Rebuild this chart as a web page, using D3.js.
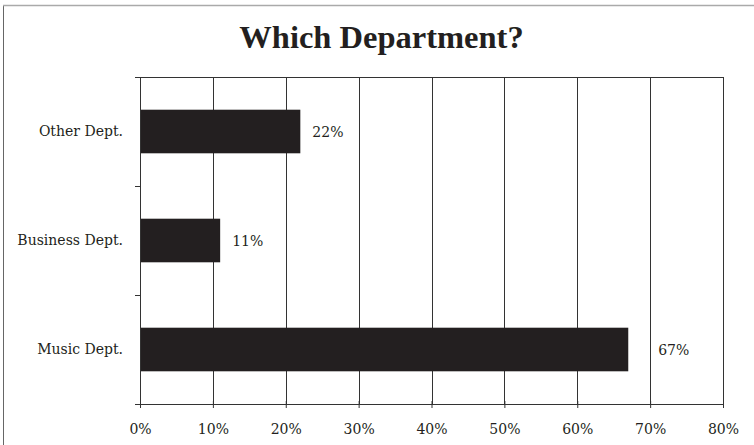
<!DOCTYPE html>
<html>
<head>
<meta charset="utf-8">
<script src="https://cdn.jsdelivr.net/npm/d3@7"></script>
<style>
  html, body { margin: 0; padding: 0; background: #fff; }
  svg { display: block; }
</style>
</head>
<body>
<div id="chart"></div>
<script>
const title = "Which Department?";
const categories = ["Other Dept.", "Business Dept.", "Music Dept."];
const values = [22, 11, 67];
const xTicks = [0, 10, 20, 30, 40, 50, 60, 70, 80];

const W = 754, H = 445;
const margin = { top: 77, right: 31, bottom: 41, left: 140 };
const innerW = W - margin.left - margin.right;
const innerH = H - margin.top - margin.bottom;
const ink = "#231f20";
const serif = "'DejaVu Serif', 'Liberation Serif', serif";
const titleFont = "'Liberation Serif', 'DejaVu Serif', serif";

const svg = d3.select("#chart").append("svg").attr("width", W).attr("height", H);

// outer frame (partially visible)
svg.append("line").attr("x1", 3.5).attr("x2", 3.5).attr("y1", 5).attr("y2", H)
  .attr("stroke", "#666").attr("stroke-width", 1);
svg.append("line").attr("x1", 3).attr("x2", W).attr("y1", 5.5).attr("y2", 5.5)
  .attr("stroke", "#aaa").attr("stroke-width", 1.5);

svg.append("text").attr("x", 381.5).attr("y", 48)
  .attr("text-anchor", "middle").attr("font-family", titleFont)
  .attr("font-weight", "bold").attr("font-size", 32.5).attr("fill", ink)
  .text(title);

const g = svg.append("g").attr("transform", `translate(${margin.left},${margin.top})`);

const x = d3.scaleLinear().domain([0, 80]).range([0, innerW]);
const y = d3.scaleBand().domain(categories).range([0, innerH]).paddingInner(0.6).paddingOuter(0.3);

// gridlines
g.append("g").selectAll("line").data(xTicks.filter(t => t > 0)).join("line")
  .attr("x1", d => Math.round(x(d)) + 0.5).attr("x2", d => Math.round(x(d)) + 0.5)
  .attr("y1", 0).attr("y2", innerH)
  .attr("stroke", "#333").attr("stroke-width", 1);

// top border of plot
g.append("line").attr("x1", 0).attr("x2", innerW).attr("y1", 0.5).attr("y2", 0.5)
  .attr("stroke", "#333").attr("stroke-width", 1);

// bars
g.selectAll("rect.bar").data(categories).join("rect").attr("class", "bar")
  .attr("x", 0).attr("y", d => y(d))
  .attr("width", (d, i) => x(values[i])).attr("height", y.bandwidth())
  .attr("fill", ink);

// x axis
const xAxis = g.append("g").attr("transform", `translate(0,${innerH})`)
  .call(d3.axisBottom(x).tickValues(xTicks).tickFormat(d => d + "%").tickSize(4).tickSizeOuter(0));
xAxis.select(".domain").attr("stroke", "#333");
xAxis.selectAll(".tick line").attr("stroke", "#333").attr("y1", -3);
xAxis.selectAll(".tick text").attr("font-family", serif).attr("font-size", 14)
  .attr("fill", ink).attr("dy", null).attr("y", 30);

// y axis
const yAxis = g.append("g")
  .call(d3.axisLeft(y).tickSize(0).tickPadding(17));
yAxis.select(".domain").attr("stroke", "#333");
yAxis.selectAll(".tick text").attr("font-family", serif).attr("font-size", 14).attr("fill", ink);
// category boundary ticks
const bounds = [0].concat(categories.map(c => y(c) + y.bandwidth() / 2 + y.step() / 2));
g.append("g").selectAll("line").data(bounds).join("line")
  .attr("x1", -5).attr("x2", 0)
  .attr("y1", d => Math.round(d) + 0.5).attr("y2", d => Math.round(d) + 0.5)
  .attr("stroke", "#333");

// value labels
const labels = g.selectAll("text.val").data(categories).join("text").attr("class", "val")
  .attr("font-family", serif).attr("font-size", 14).attr("fill", ink)
  .attr("dominant-baseline", "central")
  .attr("y", d => y(d) + y.bandwidth() / 2)
  .text((d, i) => values[i] + "%");
labels.each(function(d, i) {
  const w = this.getComputedTextLength();
  let lx = x(values[i]) + 12;
  const cross = xTicks.map(t => x(t)).find(gx => gx > lx - 1 && gx < lx + w + 2);
  if (cross !== undefined) lx = cross + 8;
  d3.select(this).attr("x", lx);
});
</script>
</body>
</html>
